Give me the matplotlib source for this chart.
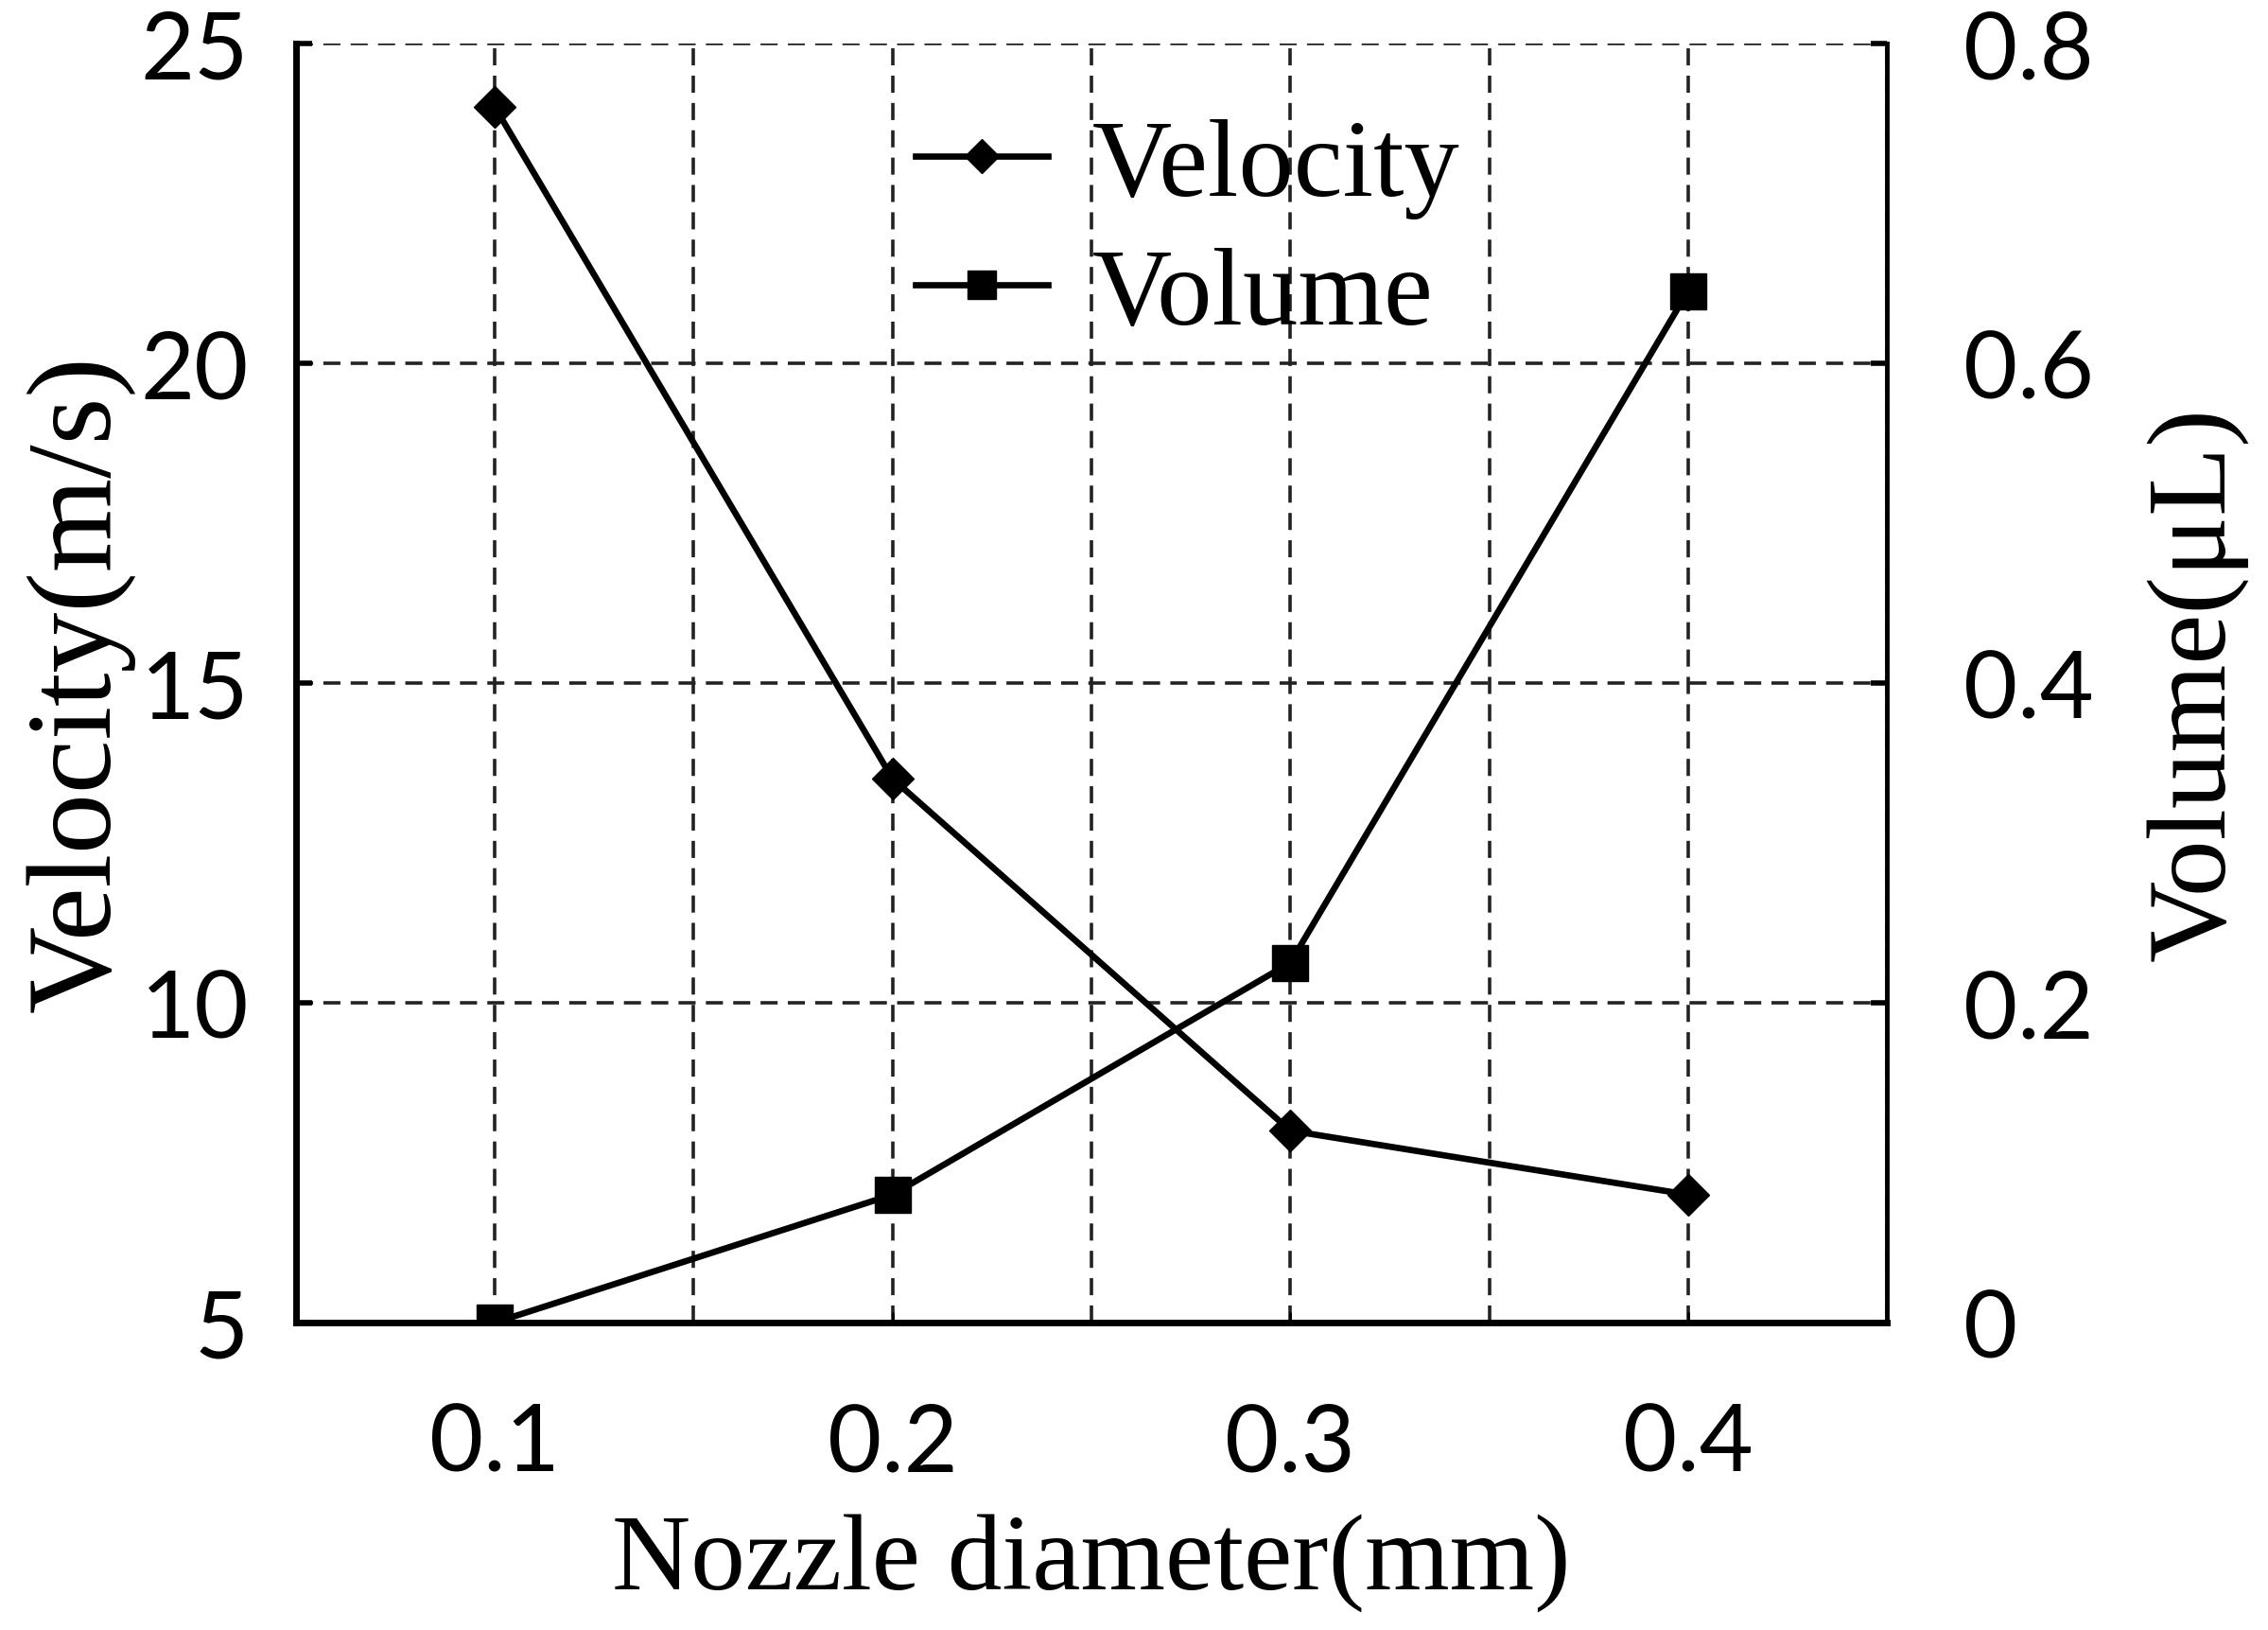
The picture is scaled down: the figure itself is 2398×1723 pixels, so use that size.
import numpy as np
import matplotlib
matplotlib.use('Agg')
import matplotlib.pyplot as plt
from matplotlib.lines import Line2D

# Data
diameter = [0.1, 0.2, 0.3, 0.4]           # mm
velocity = [24.0, 13.5, 8.0, 7.0]         # m/s
volume = [0.0, 0.08, 0.225, 0.645]        # uL

x_ticks = [0.1, 0.2, 0.3, 0.4]
x_minor = [0.05, 0.15, 0.25, 0.35, 0.45]
v_ticks = [5, 10, 15, 20, 25]
vol_ticks = [0, 0.2, 0.4, 0.6, 0.8]
vol_labels = ['0', '0.2', '0.4', '0.6', '0.8']

serif = 'Liberation Serif'
sans = 'Lato'

fig = plt.figure(figsize=(23.98, 17.24), dpi=100)
ax = fig.add_axes([0.1305, 0.1885, 0.7015, 0.7845])
ax2 = ax.twinx()

grid_ls = (0, (5, 3))

# Velocity on left axis
ax.plot(diameter, velocity, color='black', lw=4.8, marker='D',
        markersize=22, zorder=5)
ax.set_xlim(0.05, 0.45)
ax.set_ylim(5, 25)
ax.set_xticks(x_ticks)
ax.set_xticks(x_minor, minor=True)
ax.set_yticks(v_ticks)
ax.grid(True, which='both', axis='x', color='#222222', ls=grid_ls, lw=2.6)
ax.grid(True, which='major', axis='y', color='#222222', ls=grid_ls, lw=2.6)
ax.set_axisbelow(True)

# Volume on right axis
ax2.plot(diameter, volume, color='black', lw=4.8, marker='s',
         markersize=27, zorder=5)
ax2.set_ylim(0, 0.8)
ax2.set_yticks(vol_ticks)
ax2.set_yticklabels(vol_labels)

for a in (ax, ax2):
    a.spines['top'].set_visible(False)
ax.spines['left'].set_linewidth(5)
ax.spines['bottom'].set_linewidth(5)
ax.spines['right'].set_visible(False)
ax2.spines['left'].set_visible(False)
ax2.spines['bottom'].set_visible(False)
ax2.spines['right'].set_linewidth(3.5)

ax.tick_params(axis='y', direction='in', length=12, width=4, pad=36)
ax.tick_params(axis='x', which='major', direction='in', length=8, width=2, pad=60)
ax.tick_params(axis='x', which='minor', length=0)
ax2.tick_params(axis='y', direction='in', length=12, width=4, pad=58)
for lab in ax.get_xticklabels() + ax.get_yticklabels() + ax2.get_yticklabels():
    lab.set_fontfamily(sans)
    lab.set_fontsize(71)

ax.set_xlabel('Nozzle diameter(mm)', family=serif, fontsize=83, labelpad=20)
ax.set_ylabel('Velocity(m/s)', family=serif, fontsize=92, labelpad=4)
ax2.set_ylabel('Volume(\u03bcL)', family=serif, fontsize=86, labelpad=40)

handles = [Line2D([], [], color='black', lw=4.8, marker='D', markersize=18),
           Line2D([], [], color='black', lw=4.8, marker='s', markersize=22)]
ax2.legend(handles, ['Velocity', 'Volume'], loc='upper left',
           bbox_to_anchor=(0.355, 0.985), frameon=False,
           prop={'family': serif, 'size': 84}, handlelength=1.2,
           handletextpad=0.4, labelspacing=0.25, borderpad=0)

fig.savefig('out.png', dpi=100, facecolor='white')
